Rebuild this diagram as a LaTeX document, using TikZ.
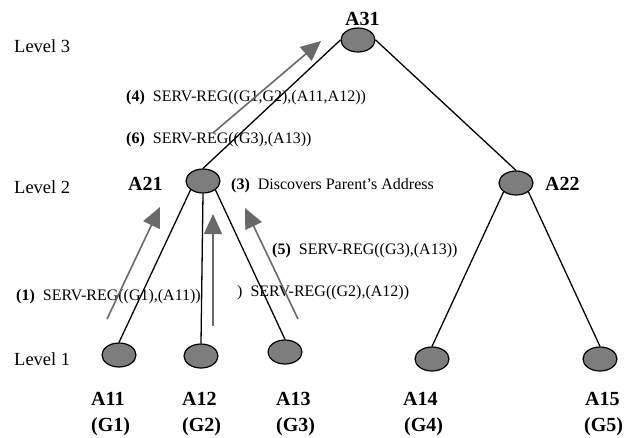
\documentclass[tikz,border=0pt]{standalone}
\usepackage{fontspec}
\setmainfont{Liberation Serif}
\usetikzlibrary{arrows.meta,shapes.geometric}
\definecolor{nodegray}{RGB}{125,125,125}
\definecolor{arrgray}{RGB}{105,105,105}
\begin{document}
\begin{tikzpicture}[x=1pt,y=-1pt,
  agentnode/.style={ellipse,draw=black,line width=1.2pt,fill=nodegray,minimum width=34pt,minimum height=24pt,inner sep=0pt},
  treeedge/.style={line width=1.3pt,black},
  msgarrow/.style={draw=arrgray,line width=1.6pt,-{Triangle[length=20pt,width=18pt]}},
  lvltext/.style={anchor=base west,inner sep=0pt,font=\fontsize{18.5}{20}\selectfont},
  agentlabel/.style={anchor=base west,inner sep=0pt,font=\fontsize{20}{22}\selectfont\bfseries},
  msgtext/.style={anchor=base west,inner sep=0pt,font=\fontsize{16}{18}\selectfont}]
\useasboundingbox (0,0) rectangle (635,437);
% agents
\node[agentnode] (a31) at (358,40) {};
\node[agentnode] (a21) at (203,181) {};
\node[agentnode] (a22) at (516,183) {};
\node[agentnode] (a11) at (119,355) {};
\node[agentnode] (a12) at (201,356) {};
\node[agentnode] (a13) at (285,352) {};
\node[agentnode] (a14) at (432,359) {};
\node[agentnode] (a15) at (600,359) {};
% tree edges
\draw[treeedge] (a31.west) -- (a21.north);
\draw[treeedge] (a31.east) -- (a22.north);
\draw[treeedge] (a21.south west) -- (a11.north);
\draw[treeedge] (a21.south) -- (a12.north);
\draw[treeedge] (a21.south east) -- (a13.north);
\draw[treeedge] (a22.south west) -- (a14.north);
\draw[treeedge] (a22.south east) -- (a15.north);
% level labels
\node[lvltext] (l3) at (14,52) {Level 3};
\node[lvltext] (l2) at (14,193) {Level 2};
\node[lvltext] (l1) at (14,365) {Level 1};
% agent names
\node[agentlabel] (n31) at (345,25) {A31};
\node[agentlabel] (n21) at (128,190) {A21};
\node[agentlabel] (n22) at (545,190) {A22};
\node[agentlabel] (n11) at (91,405) {A11};
\node[agentlabel] (g1) at (91,431) {(G1)};
\node[agentlabel] (n12) at (182,405) {A12};
\node[agentlabel] (g2) at (182,431) {(G2)};
\node[agentlabel] (n13) at (276,405) {A13};
\node[agentlabel] (g3) at (276,431) {(G3)};
\node[agentlabel] (n14) at (403,405) {A14};
\node[agentlabel] (g4) at (404,431) {(G4)};
\node[agentlabel] (n15) at (585,405) {A15};
\node[agentlabel] (g5) at (584,431) {(G5)};
% message texts
\node[msgtext] (t4) at (126,101) {\textbf{(4)}\ \ SERV-REG((G1,G2),(A11,A12))};
\node[msgtext] (t6) at (126,143) {\textbf{(6)}\ \ SERV-REG((G3),(A13))};
\node[msgtext] (t3) at (231,189) {\textbf{(3)}\ \ Discovers Parent’s Address};
\node[msgtext] (t5) at (272,254) {\textbf{(5)}\ \ SERV-REG((G3),(A13))};
\node[msgtext] (t1) at (16,300) {\textbf{(1)}\ \ SERV-REG((G1),(A11))};
\node[msgtext] (t2) at (237,296) {)\ \ SERV-REG((G2),(A12))};
% message arrows
\coordinate (s46) at (213,133);
\coordinate (e46) at (321,41);
\coordinate (s1) at (107,319);
\coordinate (e1) at (160,207);
\coordinate (s2) at (213,326);
\coordinate (e2) at (213,214);
\coordinate (s5) at (298,319);
\coordinate (e5) at (245,208);
\draw[msgarrow] (s46) -- (e46);
\draw[msgarrow] (s1) -- (e1);
\draw[msgarrow] (s2) -- (e2);
\draw[msgarrow] (s5) -- (e5);
\end{tikzpicture}
\end{document}
